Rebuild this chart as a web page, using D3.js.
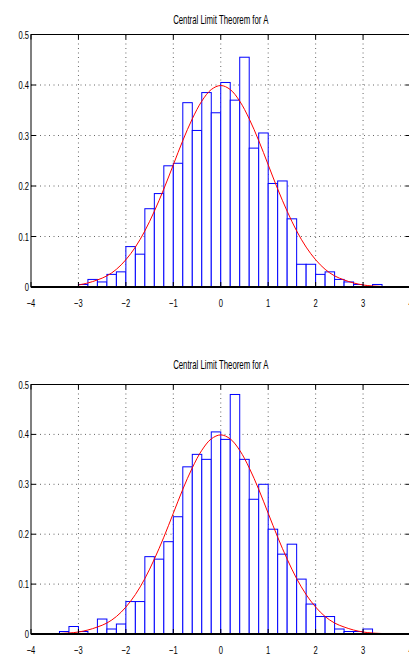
<!DOCTYPE html>
<html>
<head>
<meta charset="utf-8">
<script src="https://cdn.jsdelivr.net/npm/d3@7/dist/d3.min.js"></script>
<style>
  body { margin: 0; background: #fff; }
  text { font-family: "Liberation Sans", Arial, sans-serif; fill: #000; }
</style>
</head>
<body>
<svg width="409" height="658"></svg>
<script>
// chart data
var titleText = "Central Limit Theorem for A";
var xTicks = [-4, -3, -2, -1, 0, 1, 2, 3, 4];
var yTicks = [0, 0.1, 0.2, 0.3, 0.4, 0.5];
var binWidth = 0.2;

// first panel: bin left edges and bar heights
var edgesA = [-3, -2.8, -2.6, -2.4, -2.2, -2, -1.8, -1.6, -1.4, -1.2, -1, -0.8, -0.6, -0.4, -0.2,
  0, 0.2, 0.4, 0.6, 0.8, 1, 1.2, 1.4, 1.6, 1.8, 2, 2.2, 2.4, 2.6, 2.8, 3, 3.2, 3.4];
var heightsA = [0.005, 0.015, 0.01, 0.025, 0.03, 0.08, 0.065, 0.155, 0.185, 0.24, 0.245, 0.365, 0.31, 0.385, 0.345,
  0.405, 0.37, 0.455, 0.275, 0.305, 0.205, 0.21, 0.135, 0.045, 0.045, 0.025, 0.03, 0.015, 0.01, 0.005, 0, 0.005, 0];

// second panel
var edgesB = [-3.6, -3.4, -3.2, -3, -2.8, -2.6, -2.4, -2.2, -2, -1.8, -1.6, -1.4, -1.2, -1, -0.8, -0.6, -0.4, -0.2,
  0, 0.2, 0.4, 0.6, 0.8, 1, 1.2, 1.4, 1.6, 1.8, 2, 2.2, 2.4, 2.6, 2.8, 3, 3.2];
var heightsB = [0, 0.005, 0.015, 0.005, 0, 0.03, 0.01, 0.02, 0.065, 0.065, 0.155, 0.15, 0.185, 0.235, 0.335, 0.36, 0.35, 0.405,
  0.39, 0.48, 0.35, 0.27, 0.3, 0.21, 0.16, 0.18, 0.11, 0.06, 0.035, 0.035, 0.01, 0.005, 0.005, 0.01, 0];

// red fitted curve, sampled points
var curveXs = [-3.6, -3.4, -3.2, -3, -2.8, -2.6, -2.4, -2.2, -2, -1.8, -1.6, -1.4, -1.2, -1, -0.8, -0.6, -0.4, -0.2,
  0, 0.2, 0.4, 0.6, 0.8, 1, 1.2, 1.4, 1.6, 1.8, 2, 2.2, 2.4, 2.6, 2.8, 3, 3.2, 3.4, 3.6];
var curveYs = [0.001, 0.001, 0.002, 0.004, 0.008, 0.014, 0.022, 0.035, 0.054, 0.079, 0.111, 0.15, 0.194, 0.242, 0.29, 0.333, 0.368, 0.391,
  0.399, 0.391, 0.368, 0.333, 0.29, 0.242, 0.194, 0.15, 0.111, 0.079, 0.054, 0.035, 0.022, 0.014, 0.008, 0.004, 0.002, 0.001, 0.001];
var curveRangeA = [-3, 3.6];
var curveRangeB = [-3.6, 3.4];

var svg = d3.select("svg");

var panels = [
  { top: 34.5, bottom: 287, titleY: 24, edges: edgesA, heights: heightsA, range: curveRangeA },
  { top: 384.5, bottom: 634, titleY: 369, edges: edgesB, heights: heightsB, range: curveRangeB }
];

var left = 31, right = 410.5;
var x = d3.scaleLinear().domain([-4, 4]).range([left, right]);

function label(g, px, py, s, size, anchor, sx) {
  g.append("text")
    .attr("transform", "translate(" + px + "," + py + ") scale(" + sx + ",1)")
    .attr("text-anchor", anchor)
    .attr("font-size", size)
    .text(s);
}

panels.forEach(function(p) {
  var y = d3.scaleLinear().domain([0, 0.5]).range([p.bottom, p.top]);
  var g = svg.append("g");

  // dotted grid
  g.selectAll(".gx").data(xTicks.slice(1, -1)).enter().append("line")
    .attr("x1", function(d) { return x(d); }).attr("x2", function(d) { return x(d); })
    .attr("y1", p.top).attr("y2", p.bottom)
    .attr("stroke", "#666").attr("stroke-dasharray", "1,3.5");
  g.selectAll(".gy").data(yTicks.slice(1, -1)).enter().append("line")
    .attr("x1", left).attr("x2", right)
    .attr("y1", function(d) { return y(d); }).attr("y2", function(d) { return y(d); })
    .attr("stroke", "#666").attr("stroke-dasharray", "1,3.5");

  // histogram bars
  g.selectAll(".bar").data(p.edges).enter().append("rect")
    .attr("x", function(d) { return x(d); })
    .attr("width", function(d) { return x(d + binWidth) - x(d); })
    .attr("y", function(d, i) { return y(p.heights[i]); })
    .attr("height", function(d, i) { return y(0) - y(p.heights[i]); })
    .attr("fill", "#fff")
    .attr("stroke", "#0000ff")
    .attr("stroke-width", 1);

  // fitted curve
  var pts = curveXs.map(function(v, i) { return [v, curveYs[i]]; })
    .filter(function(d) { return d[0] >= p.range[0] - 1e-9 && d[0] <= p.range[1] + 1e-9; });
  g.append("path")
    .datum(pts)
    .attr("fill", "none")
    .attr("stroke", "#ff0000")
    .attr("stroke-width", 1)
    .attr("d", d3.line()
      .x(function(d) { return x(d[0]); })
      .y(function(d) { return y(d[1]); })
      .curve(d3.curveCatmullRom));

  // box and inner ticks
  g.append("rect")
    .attr("x", left).attr("y", p.top)
    .attr("width", right - left).attr("height", p.bottom - p.top)
    .attr("fill", "none").attr("stroke", "#000").attr("stroke-width", 1);
  g.append("line")
    .attr("x1", left).attr("x2", right).attr("y1", p.bottom).attr("y2", p.bottom)
    .attr("stroke", "#000").attr("stroke-width", 1.8);

  var tl = 5;
  xTicks.forEach(function(t) {
    g.append("line").attr("x1", x(t)).attr("x2", x(t)).attr("y1", p.bottom).attr("y2", p.bottom - tl).attr("stroke", "#000");
    g.append("line").attr("x1", x(t)).attr("x2", x(t)).attr("y1", p.top).attr("y2", p.top + tl).attr("stroke", "#000");
    label(g, x(t), p.bottom + 20, d3.format("d")(t), 11.5, "middle", 0.66);
  });
  yTicks.forEach(function(t) {
    g.append("line").attr("x1", left).attr("x2", left + tl).attr("y1", y(t)).attr("y2", y(t)).attr("stroke", "#000");
    g.append("line").attr("x1", right).attr("x2", right - tl).attr("y1", y(t)).attr("y2", y(t)).attr("stroke", "#000");
    label(g, 29, y(t) + 4, String(t), 11.5, "end", 0.66);
  });

  label(g, (left + right) / 2, p.titleY, titleText, 13, "middle", 0.6);
});
</script>
</body>
</html>
